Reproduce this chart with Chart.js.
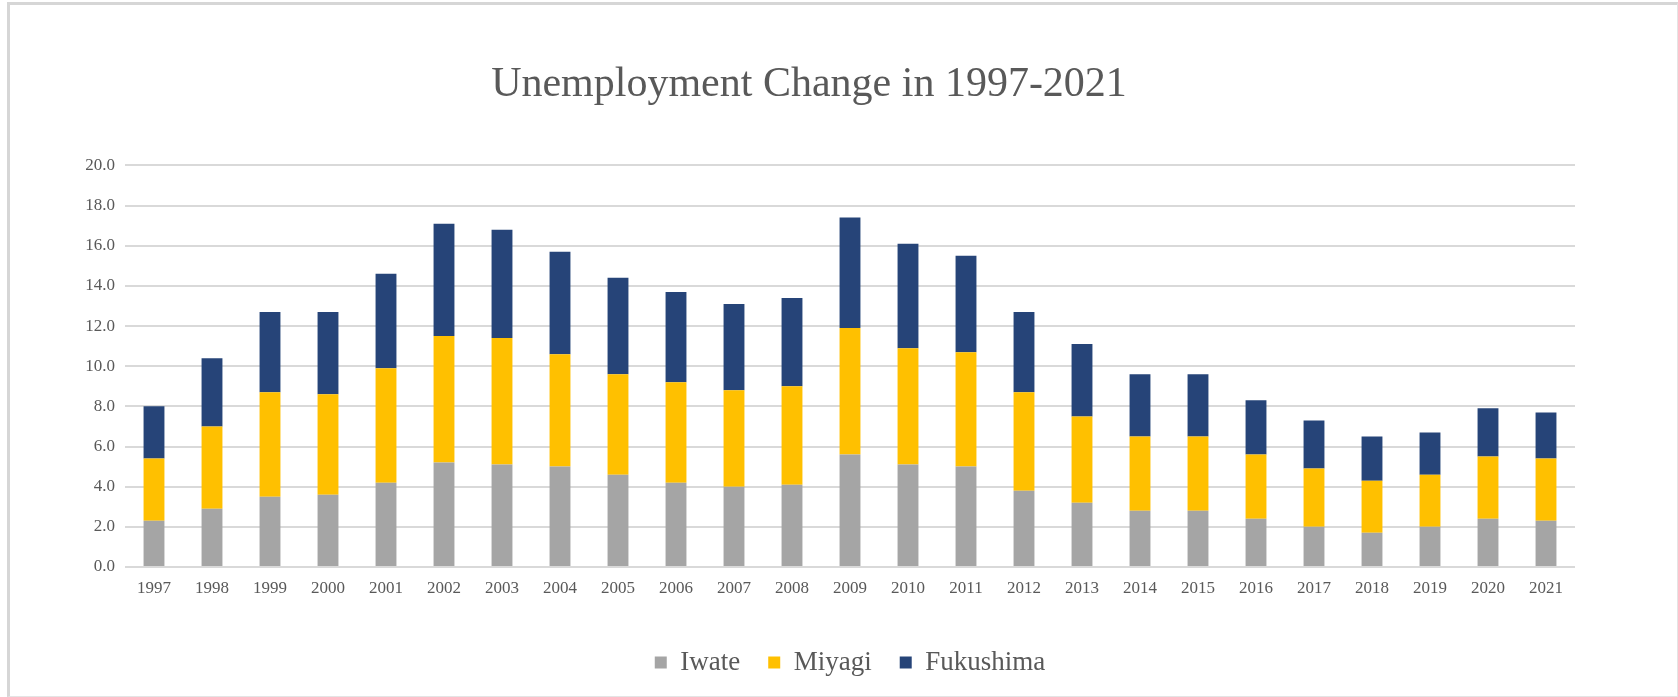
<!DOCTYPE html>
<html>
<head>
<meta charset="utf-8">
<script src="https://cdn.jsdelivr.net/npm/chart.js@4"></script>
<style>
  html, body { margin: 0; padding: 0; background: #ffffff; }
  #wrap { position: relative; width: 1678px; height: 697px; }
  #frame { position: absolute; left: 7px; top: 2px; width: 1671px; height: 695px; box-sizing: border-box;
           border-left: 3px solid #d6d6d6; border-top: 3px solid #d6d6d6;
           border-right: 1px solid #e4e4e4; border-bottom: 1px solid #e4e4e4; pointer-events: none; }
  canvas { position: absolute; left: 0; top: 0; }
</style>
</head>
<body>
<div id="wrap">
  <canvas id="c" width="1678" height="697"></canvas>
  <div id="frame"></div>
</div>
<script>
const years = ["1997","1998","1999","2000","2001","2002","2003","2004","2005","2006","2007","2008","2009","2010","2011","2012","2013","2014","2015","2016","2017","2018","2019","2020","2021"];
const iwate = [2.3,2.9,3.5,3.6,4.2,5.2,5.1,5.0,4.6,4.2,4.0,4.1,5.6,5.1,5.0,3.8,3.2,2.8,2.8,2.4,2.0,1.7,2.0,2.4,2.3];
const miyagi = [3.1,4.1,5.2,5.0,5.7,6.3,6.3,5.6,5.0,5.0,4.8,4.9,6.3,5.8,5.7,4.9,4.3,3.7,3.7,3.2,2.9,2.6,2.6,3.1,3.1];
const fukushima = [2.6,3.4,4.0,4.1,4.7,5.6,5.4,5.1,4.8,4.5,4.3,4.4,5.5,5.2,4.8,4.0,3.6,3.1,3.1,2.7,2.4,2.2,2.1,2.4,2.3];
const seriesNames = ["Iwate","Miyagi","Fukushima"];
const titleText = "Unemployment Change in 1997-2021";

const serif = "'Liberation Serif', 'Times New Roman', serif";
const textColor = "#595959";

// centre the legend under the plot area rather than the full title width
const shiftLegend = {
  id: 'shiftLegend',
  afterLayout(chart) {
    const l = chart.legend;
    if (l) { l.left += 41; l.right += 41; }
  }
};

new Chart(document.getElementById('c'), {
  type: 'bar',
  data: {
    labels: years,
    datasets: [
      { label: seriesNames[0], data: iwate, backgroundColor: '#A5A5A5' },
      { label: seriesNames[1], data: miyagi, backgroundColor: '#FFC000' },
      { label: seriesNames[2], data: fukushima, backgroundColor: '#264478' }
    ]
  },
  options: {
    responsive: false,
    animation: false,
    devicePixelRatio: 1,
    layout: { padding: { left: 43, right: 103, top: 0, bottom: 11 } },
    datasets: { bar: { categoryPercentage: 1.0, barPercentage: 0.36, borderWidth: 0 } },
    plugins: {
      tooltip: { enabled: false },
      title: {
        display: true,
        text: titleText,
        color: textColor,
        font: { family: serif, size: 42, weight: 'normal' },
        padding: { top: 60, bottom: 55 }
      },
      legend: {
        position: 'bottom',
        labels: {
          color: textColor,
          font: { family: serif, size: 27 },
          boxWidth: 12,
          boxHeight: 12,
          padding: 28
        }
      }
    },
    scales: {
      x: {
        stacked: true,
        grid: { display: false, drawTicks: false },
        border: { display: false },
        ticks: { color: textColor, font: { family: serif, size: 17 }, padding: 11, maxRotation: 0, autoSkip: false },
        afterFit(scale) { scale.height = 54; }
      },
      y: {
        stacked: true,
        min: 0,
        max: 20,
        grid: { color: '#d9d9d9', lineWidth: 2, drawTicks: false },
        border: { display: false },
        ticks: {
          stepSize: 2,
          color: textColor,
          font: { family: serif, size: 17 },
          padding: 10,
          callback: (v) => Number(v).toFixed(1)
        },
        afterFit(scale) { scale.width = 82; }
      }
    }
  },
  plugins: [shiftLegend]
});
</script>
</body>
</html>
